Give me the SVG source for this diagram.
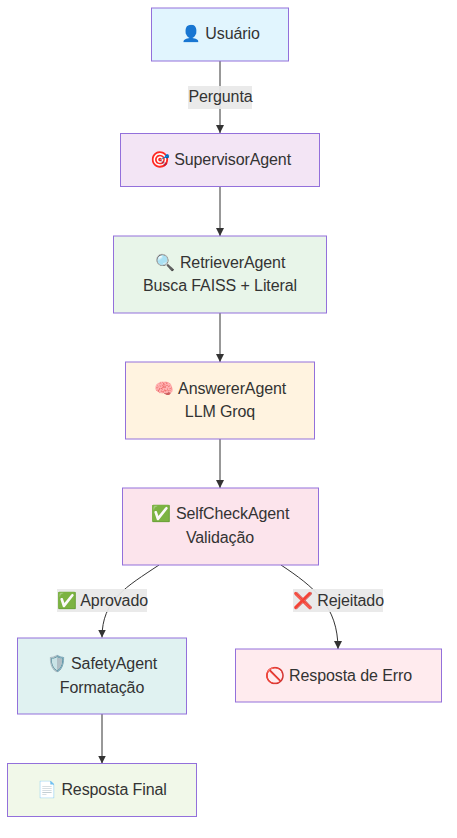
<svg xmlns="http://www.w3.org/2000/svg" width="457" height="838" viewBox="0 0 457 838">
<style>
text{font-family:"Liberation Sans",Arial,"Noto Color Emoji",sans-serif;font-size:16px;fill:#333;text-anchor:middle;letter-spacing:-.1px}
.n{stroke:#9370db;stroke-width:1px}
.e{fill:none;stroke:#333;stroke-width:1px}
.l{fill:#e8e8e8;fill-opacity:.93}
</style>
<defs>
<marker id="a" markerUnits="userSpaceOnUse" markerWidth="10" markerHeight="10" refX="8" refY="4" orient="auto"><path d="M0,0L8,4L0,8z" fill="#333"/></marker>
</defs>
<rect width="457" height="838" fill="#fff"/>
<g id="connectors">
<path class="e" marker-end="url(#a)" d="M220,61V133"/>
<path class="e" marker-end="url(#a)" d="M220,187V236"/>
<path class="e" marker-end="url(#a)" d="M220,313V362"/>
<path class="e" marker-end="url(#a)" d="M220,439V488"/>
<path class="e" marker-end="url(#a)" d="M159,565C126,587 102,600 102,637.500"/>
<path class="e" marker-end="url(#a)" d="M281,565C314,587 338,606 338,649"/>
<path class="e" marker-end="url(#a)" d="M102,714V763.500"/>
<g id="edge-labels">
<rect class="l" x="188" y="86" width="64" height="23"/><text x="220.500" y="102">Pergunta</text>
<rect class="l" x="57" y="589" width="90" height="23"/><text x="102.500" y="606">✅ Aprovado</text>
<rect class="l" x="293" y="589" width="90" height="23"/><text x="338.500" y="606">❌ Rejeitado</text>
</g>
</g>
<g id="usuario"><rect class="n" x="151.500" y="8" width="137" height="53" fill="#e1f5fe"/><text x="220.500" y="39">👤 Usuário</text></g>
<g id="supervisor"><rect class="n" x="120.500" y="133.500" width="199" height="53" fill="#f3e5f5"/><text x="220.500" y="165">🎯 SupervisorAgent</text></g>
<g id="retriever"><rect class="n" x="113.500" y="236" width="213" height="77" fill="#e8f5e9"/><text x="220.500" y="268">🔍 RetrieverAgent</text><text x="220" y="291">Busca FAISS + Literal</text></g>
<g id="answerer"><rect class="n" x="125.500" y="362" width="189" height="77" fill="#fff3e0"/><text x="220.500" y="394">🧠 AnswererAgent</text><text x="220" y="417">LLM Groq</text></g>
<g id="selfcheck"><rect class="n" x="122.500" y="488" width="196" height="77" fill="#fce4ec"/><text x="220.500" y="519">✅ SelfCheckAgent</text><text x="220" y="543">Validação</text></g>
<g id="safety"><rect class="n" x="17.500" y="638" width="169" height="76" fill="#e0f2f1"/><text x="102" y="669">🛡️ SafetyAgent</text><text x="102" y="693">Formatação</text></g>
<g id="erro"><rect class="n" x="235.500" y="649" width="206" height="53" fill="#ffebee"/><text x="338.500" y="681">🚫 Resposta de Erro</text></g>
<g id="final"><rect class="n" x="7.500" y="763.500" width="189" height="53" fill="#f1f8e9"/><text x="102" y="795">📄 Resposta Final</text></g>
</svg>
